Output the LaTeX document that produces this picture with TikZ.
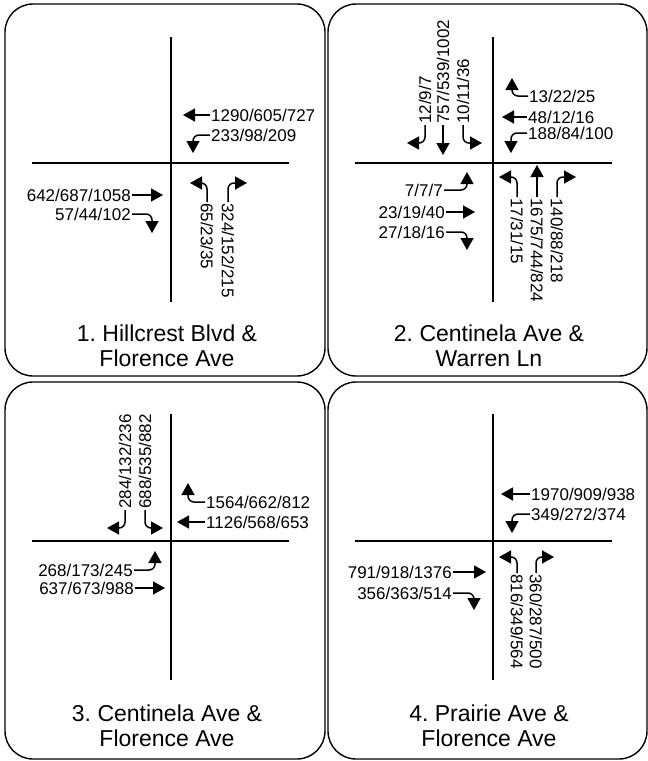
\documentclass[tikz,border=0pt]{standalone}
\usepackage{fontspec}
\setmainfont{Liberation Sans}
\usetikzlibrary{arrows.meta}
\frenchspacing
\begin{document}
\begin{tikzpicture}[x=1pt,y=-1pt,
 panel/.style={draw,line width=1.4pt,rounded corners=28pt},
 road/.style={line width=1.1pt},
 lbl/.style={font=\fontsize{17}{17}\selectfont,inner sep=1pt},
 lw/.style={lbl,anchor=west},
 le/.style={lbl,anchor=east},
 ln/.style={lbl,anchor=west,rotate=-90},
 ls/.style={lbl,anchor=west,rotate=90},
 arr/.style={line width=1.5pt,-{Triangle[length=12pt,width=13pt]},rounded corners=6pt},
 ttl/.style={font=\fontsize{23}{25}\selectfont,inner sep=0pt,anchor=base}]
\useasboundingbox (0,0) rectangle (648,761);
% panels
\draw[panel] (5,4) rectangle (325,376);
\draw[panel] (328,4) rectangle (647,376);
\draw[panel] (5,382) rectangle (325,759);
\draw[panel] (328,382) rectangle (647,759);

% ---------- Panel 1
\begin{scope}[shift={(171,163)}]
\draw[road] (-139,0) -- (118,0);
\draw[road] (0,-126) -- (0,139);
\node[lw] (a1) at (39,-48) {1290/605/727};
\coordinate (a1t) at (12,-48);
\draw[arr] (a1.west) -- (a1t);
\node[lw] (a2) at (39,-28) {233/98/209};
\coordinate (a2t) at (22,-10);
\draw[arr] (a2.west) -| (a2t);
\node[le] (a3) at (-39,32) {642/687/1058};
\coordinate (a3t) at (-8,32);
\draw[arr] (a3.east) -- (a3t);
\node[le] (a4) at (-39,51) {57/44/102};
\coordinate (a4t) at (-19,70);
\draw[arr] (a4.east) -| (a4t);
\node[ln] (a5) at (36,39) {65/23/35};
\coordinate (a5t) at (19,20);
\draw[arr] (a5.west) |- (a5t);
\node[ln] (a6) at (57,39) {324/152/215};
\coordinate (a6t) at (76,20);
\draw[arr] (a6.west) |- (a6t);
\end{scope}
\node[ttl] (t1a) at (167,341) {1. Hillcrest Blvd \&};
\node[ttl] (t1b) at (167,366) {Florence Ave};

% ---------- Panel 2
\begin{scope}[shift={(493,163)}]
\draw[road] (-138,0) -- (119,0);
\draw[road] (0,-126) -- (0,139);
\node[ls] (b1) at (-68,-38) {12/9/7};
\coordinate (b1t) at (-86,-20);
\draw[arr] (b1.west) |- (b1t);
\node[ls] (b2) at (-50,-38) {757/539/1002};
\coordinate (b2t) at (-50,-8);
\draw[arr] (b2.west) -- (b2t);
\node[ls] (b3) at (-30,-38) {10/11/36};
\coordinate (b3t) at (-11,-20);
\draw[arr] (b3.west) |- (b3t);
\node[lw] (b4) at (35,-67) {13/22/25};
\coordinate (b4t) at (19,-85);
\draw[arr] (b4.west) -| (b4t);
\node[lw] (b5) at (34,-46) {48/12/16};
\coordinate (b5t) at (9,-46);
\draw[arr] (b5.west) -- (b5t);
\node[lw] (b6) at (34,-30) {188/84/100};
\coordinate (b6t) at (18,-10);
\draw[arr] (b6.west) -| (b6t);
\node[le] (b7) at (-49,27) {7/7/7};
\coordinate (b7t) at (-26,9);
\draw[arr] (b7.east) -| (b7t);
\node[le] (b8) at (-47,49) {23/19/40};
\coordinate (b8t) at (-18,49);
\draw[arr] (b8.east) -- (b8t);
\node[le] (b9) at (-47,69) {27/18/16};
\coordinate (b9t) at (-26,87);
\draw[arr] (b9.east) -| (b9t);
\node[ln] (b10) at (24,34) {17/31/15};
\coordinate (b10t) at (6,14);
\draw[arr] (b10.west) |- (b10t);
\node[ln] (b11) at (44,34) {1675/744/824};
\coordinate (b11t) at (44,2);
\draw[arr] (b11.west) -- (b11t);
\node[ln] (b12) at (64,34) {140/88/218};
\coordinate (b12t) at (83,14);
\draw[arr] (b12.west) |- (b12t);
\end{scope}
\node[ttl] (t2a) at (489,341) {2. Centinela Ave \&};
\node[ttl] (t2b) at (489,366) {Warren Ln};

% ---------- Panel 3
\begin{scope}[shift={(171,541)}]
\draw[road] (-139,0) -- (118,0);
\draw[road] (0,-127) -- (0,139);
\node[ls] (c1) at (-46,-31) {284/132/236};
\coordinate (c1t) at (-64,-13);
\draw[arr] (c1.west) |- (c1t);
\node[ls] (c2) at (-26,-31) {688/535/882};
\coordinate (c2t) at (-8,-13);
\draw[arr] (c2.west) |- (c2t);
\node[lw] (c3) at (34,-39) {1564/662/812};
\coordinate (c3t) at (17,-58);
\draw[arr] (c3.west) -| (c3t);
\node[lw] (c4) at (34,-19) {1126/568/653};
\coordinate (c4t) at (6,-19);
\draw[arr] (c4.west) -- (c4t);
\node[le] (c5) at (-37,29) {268/173/245};
\coordinate (c5t) at (-16,10);
\draw[arr] (c5.east) -| (c5t);
\node[le] (c6) at (-36,47) {637/673/988};
\coordinate (c6t) at (-6,47);
\draw[arr] (c6.east) -- (c6t);
\end{scope}
\node[ttl] (t3a) at (167,721) {3. Centinela Ave \&};
\node[ttl] (t3b) at (167,746) {Florence Ave};

% ---------- Panel 4
\begin{scope}[shift={(493,541)}]
\draw[road] (-138,0) -- (119,0);
\draw[road] (0,-127) -- (0,139);
\node[lw] (d1) at (37,-47) {1970/909/938};
\coordinate (d1t) at (8,-47);
\draw[arr] (d1.west) -- (d1t);
\node[lw] (d2) at (37,-27) {349/272/374};
\coordinate (d2t) at (19,-8);
\draw[arr] (d2.west) -| (d2t);
\node[le] (d3) at (-40,31) {791/918/1376};
\coordinate (d3t) at (-7,31);
\draw[arr] (d3.east) -- (d3t);
\node[le] (d4) at (-40,52) {356/363/514};
\coordinate (d4t) at (-19,69);
\draw[arr] (d4.east) -| (d4t);
\node[ln] (d5) at (24,32) {816/349/564};
\coordinate (d5t) at (6,16);
\draw[arr] (d5.west) |- (d5t);
\node[ln] (d6) at (43,32) {360/287/500};
\coordinate (d6t) at (61,16);
\draw[arr] (d6.west) |- (d6t);
\end{scope}
\node[ttl] (t4a) at (489,721) {4. Prairie Ave \&};
\node[ttl] (t4b) at (489,746) {Florence Ave};
\end{tikzpicture}
\end{document}
